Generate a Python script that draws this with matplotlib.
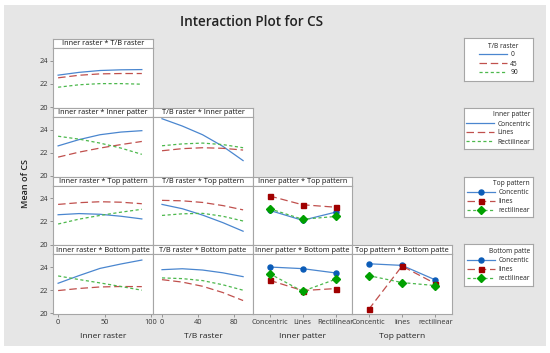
import matplotlib.pyplot as plt
from matplotlib.lines import Line2D
from matplotlib.patches import Rectangle

# figure size in pixels
W, H = 550, 353

# continuous factor levels where the fitted curves were read
inner_raster_x = [0, 22.5, 45, 67.5, 90]
tb_raster_x = [0, 22.5, 45, 67.5, 90]
inner_patter_cats = ["Concentric", "Lines", "Rectilinear"]
top_pattern_cats = ["Concentic", "lines", "rectilinear"]

# Inner raster * T/B raster (series = T/B raster 0, 45, 90)
ir_tb_0 = [22.76, 23.0, 23.16, 23.22, 23.24]
ir_tb_45 = [22.53, 22.75, 22.87, 22.9, 22.9]
ir_tb_90 = [21.72, 21.93, 22.03, 22.03, 21.98]

# Inner raster * Inner patter
ir_ip_conc = [22.59, 23.13, 23.55, 23.78, 23.9]
ir_ip_lines = [21.62, 22.05, 22.4, 22.7, 22.97]
ir_ip_rect = [23.42, 23.17, 22.83, 22.4, 21.86]

# T/B raster * Inner patter
tb_ip_conc = [24.93, 24.3, 23.55, 22.55, 21.32]
tb_ip_lines = [22.17, 22.35, 22.43, 22.38, 22.23]
tb_ip_rect = [22.6, 22.76, 22.83, 22.7, 22.43]

# Inner raster * Top pattern
ir_tp_conc = [22.58, 22.68, 22.62, 22.45, 22.22]
ir_tp_lines = [23.47, 23.62, 23.7, 23.66, 23.53]
ir_tp_rect = [21.78, 22.2, 22.52, 22.8, 23.05]

# T/B raster * Top pattern
tb_tp_conc = [23.47, 23.1, 22.55, 21.9, 21.16]
tb_tp_lines = [23.82, 23.78, 23.64, 23.37, 23.0]
tb_tp_rect = [22.52, 22.66, 22.7, 22.45, 22.04]

# Inner patter * Top pattern
ip_tp_conc = [22.96, 22.1, 22.8]
ip_tp_lines = [24.2, 23.44, 23.23]
ip_tp_rect = [23.1, 22.19, 22.43]

# Inner raster * Bottom patte
ir_bp_conc = [22.6, 23.26, 23.88, 24.26, 24.6]
ir_bp_lines = [21.97, 22.15, 22.28, 22.32, 22.31]
ir_bp_rect = [23.23, 22.92, 22.63, 22.32, 22.0]

# T/B raster * Bottom patte
tb_bp_conc = [23.77, 23.85, 23.74, 23.5, 23.17]
tb_bp_lines = [22.91, 22.7, 22.34, 21.8, 21.11]
tb_bp_rect = [23.06, 23.0, 22.83, 22.47, 22.0]

# Inner patter * Bottom patte
ip_bp_conc = [24.0, 23.86, 23.49]
ip_bp_lines = [22.86, 21.97, 22.14]
ip_bp_rect = [23.43, 21.91, 22.94]

# Top pattern * Bottom patte
tp_bp_conc = [24.28, 24.14, 22.89]
tp_bp_lines = [20.34, 24.08, 22.57]
tp_bp_rect = [23.26, 22.66, 22.4]

FONT = ["Open Sans", "DejaVu Sans"]
plt.rcParams["font.family"] = FONT

BG = "#e6e6e6"
EDGE = "#a6a6a6"
BLUE = "#4a86cf"
RED = "#c0504d"
GREEN = "#4cb84c"
BLUE_M = "#0b5cb8"
RED_M = "#a00000"
GREEN_M = "#00a000"

line_styles = [
    dict(color=BLUE, ls="-"),
    dict(color=RED, ls=(0, (6, 3))),
    dict(color=GREEN, ls=(0, (2.5, 2))),
]
marker_styles = [
    dict(marker="o", mfc=BLUE_M, mec=BLUE_M),
    dict(marker="s", mfc=RED_M, mec=RED_M),
    dict(marker="D", mfc=GREEN_M, mec=GREEN_M),
]

fig = plt.figure(figsize=(W / 100, H / 100), dpi=100)
fig.patch.set_facecolor("white")
fig.patches.append(Rectangle((4 / W, 1 - 346 / H), 542 / W, 341 / H,
                             transform=fig.transFigure, facecolor=BG,
                             edgecolor="none", zorder=-10))


def px_axes(x0, y0, x1, y1):
    return fig.add_axes([x0 / W, 1 - y1 / H, (x1 - x0) / W, (y1 - y0) / H])


def frame(ax):
    ax.set_xticks([])
    ax.set_yticks([])
    for s in ax.spines.values():
        s.set_color(EDGE)
        s.set_linewidth(0.8)


col_edges = [53, 153, 253, 352, 452]
row_tops = [39, 107.75, 176.5, 245.25]
row_h = 68.75
head_h = 9

col_names = ["Inner raster", "T/B raster", "Inner patter", "Top pattern"]
xlims = [(-5.5, 102), (-10, 101), (-0.5, 2.5), (-0.5, 2.5)]

panels = {
    (0, 0): ("Inner raster * T/B raster", inner_raster_x, [ir_tb_0, ir_tb_45, ir_tb_90]),
    (1, 0): ("Inner raster * Inner patter", inner_raster_x, [ir_ip_conc, ir_ip_lines, ir_ip_rect]),
    (1, 1): ("T/B raster * Inner patter", tb_raster_x, [tb_ip_conc, tb_ip_lines, tb_ip_rect]),
    (2, 0): ("Inner raster * Top pattern", inner_raster_x, [ir_tp_conc, ir_tp_lines, ir_tp_rect]),
    (2, 1): ("T/B raster * Top pattern", tb_raster_x, [tb_tp_conc, tb_tp_lines, tb_tp_rect]),
    (2, 2): ("Inner patter * Top pattern", inner_patter_cats, [ip_tp_conc, ip_tp_lines, ip_tp_rect]),
    (3, 0): ("Inner raster * Bottom patte", inner_raster_x, [ir_bp_conc, ir_bp_lines, ir_bp_rect]),
    (3, 1): ("T/B raster * Bottom patte", tb_raster_x, [tb_bp_conc, tb_bp_lines, tb_bp_rect]),
    (3, 2): ("Inner patter * Bottom patte", inner_patter_cats, [ip_bp_conc, ip_bp_lines, ip_bp_rect]),
    (3, 3): ("Top pattern * Bottom patte", top_pattern_cats, [tp_bp_conc, tp_bp_lines, tp_bp_rect]),
}

for (r, c), (title, xs, series) in panels.items():
    x0, x1 = col_edges[c], col_edges[c + 1]
    top = row_tops[r]
    # header strip
    hx = px_axes(x0, top, x1, top + head_h)
    frame(hx)
    hx.text(0.5, 0.45, title, ha="center", va="center", fontsize=5.3,
            color="#111111", transform=hx.transAxes)

    ax = px_axes(x0, top + head_h, x1, top + row_h)
    for s in ax.spines.values():
        s.set_color(EDGE)
        s.set_linewidth(0.8)
    categorical = isinstance(xs[0], str)
    pos = list(range(len(xs))) if categorical else xs
    for k, ys in enumerate(series):
        if categorical:
            ax.plot(pos, ys, lw=0.9, ms=3.6, **line_styles[k], **marker_styles[k])
        else:
            ax.plot(pos, ys, lw=0.9, **line_styles[k])
    ax.set_ylim(19.95, 25.1)
    ax.set_xlim(*xlims[c])
    ax.set_yticks([20, 22, 24])
    ax.tick_params(length=2, width=0.6, color="#888888", labelsize=5.3,
                   pad=1.5, labelcolor="#333333")
    if c != 0:
        ax.tick_params(axis="y", left=False, labelleft=False)
    if r != 3:
        ax.tick_params(axis="x", bottom=False, labelbottom=False)
    else:
        if categorical:
            ax.set_xticks(pos)
            ax.set_xticklabels(xs)
        elif c == 0:
            ax.set_xticks([0, 50, 100])
        else:
            ax.set_xticks([0, 40, 80])
        ax.set_xlabel(col_names[c], fontsize=6, color="#222222", labelpad=5)

fig.text(252 / W, 1 - 22 / H, "Interaction Plot for CS", ha="center",
         va="center", fontsize=9.8, fontweight="semibold", color="#222222")
fig.text(25 / W, 1 - 183 / H, "Mean of CS", ha="center", va="center",
         rotation=90, fontsize=6.5, fontweight="semibold", color="#222222")

# legends, each in a fixed white box
legend_specs = [
    ("T/B raster", ["0", "45", "90"], False, 38, 81),
    ("Inner patter", ["Concentric", "Lines", "Rectilinear"], False, 108, 149),
    ("Top pattern", ["Concentic", "lines", "rectilinear"], True, 177, 217),
    ("Bottom patte", ["Concentic", "lines", "rectilinear"], True, 244, 286),
]
for title, labels, with_markers, ytop, ybot in legend_specs:
    lx = px_axes(464, ytop, 533, ybot)
    frame(lx)
    handles = []
    for k in range(3):
        if with_markers:
            handles.append(Line2D([], [], lw=0.9, ms=3.6, **line_styles[k], **marker_styles[k]))
        else:
            handles.append(Line2D([], [], lw=0.9, **line_styles[k]))
    leg = lx.legend(handles, labels, title=title, loc="center",
                    fontsize=4.8, title_fontsize=4.8, frameon=False,
                    handlelength=4.2, handletextpad=0.5, borderpad=0.3,
                    labelspacing=0.3, alignment="right")
    leg.get_title().set_color("#222222")
    for t in leg.get_texts():
        t.set_color("#222222")

fig.savefig("out.png", dpi=100, facecolor="white")
